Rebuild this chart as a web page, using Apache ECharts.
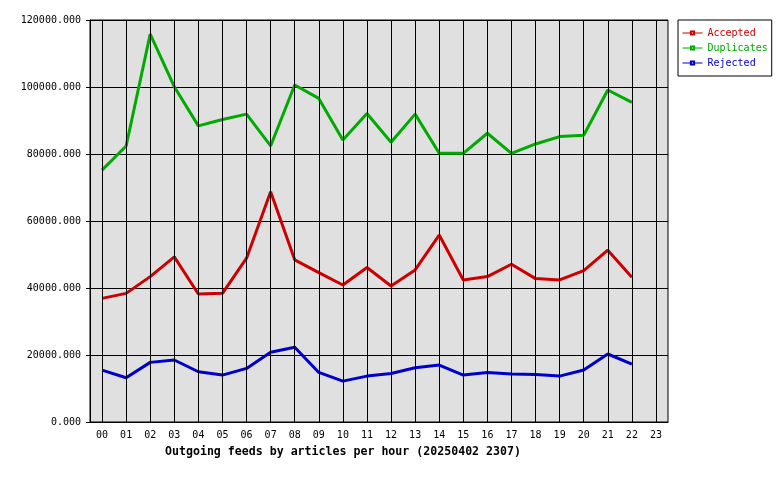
<!DOCTYPE html>
<html>
<head>
<meta charset="utf-8">
<title>Outgoing feeds by articles per hour</title>
<script src="https://cdn.jsdelivr.net/npm/echarts@6/dist/echarts.min.js"></script>
<style>
  html, body { margin: 0; padding: 0; background: #fff; }
  #chart { width: 780px; height: 480px; }
</style>
</head>
<body>
<div id="chart"></div>
<script>
// hours on the x axis
var hours = ['00','01','02','03','04','05','06','07','08','09','10','11',
             '12','13','14','15','16','17','18','19','20','21','22','23'];

// articles per hour
var accepted = [36900, 38400, 43400, 49300, 38200, 38400, 48900, 68700, 48400, 44600, 40900, 46100,
                40600, 45400, 55800, 42400, 43400, 47100, 42800, 42400, 45200, 51300, 43200];
var duplicates = [75200, 82400, 115800, 100100, 88400, 90300, 91900, 82400, 100600, 96600, 84200, 92100,
                  83500, 91900, 80200, 80200, 86200, 80200, 83000, 85200, 85600, 99100, 95400];
var rejected = [15500, 13200, 17800, 18500, 15000, 14000, 16000, 20800, 22300, 14800, 12200, 13700,
                14500, 16200, 17000, 14000, 14800, 14300, 14200, 13700, 15500, 20300, 17300];

var yTicks = { min: 0, max: 120000, step: 20000 };

var FONT = '"DejaVu Sans Mono", monospace';

var chart = echarts.init(document.getElementById('chart'));

function feed(name, values, color) {
    return {
        name: name,
        type: 'line',
        data: values,
        symbol: 'emptyRect',
        symbolSize: 4,
        showSymbol: false,
        z: 3,
        lineStyle: { color: color, width: 3 },
        itemStyle: { color: color }
    };
}

var option = {
    animation: false,
    backgroundColor: '#fff',
    title: {
        text: 'Outgoing feeds by articles per hour (20250402 2307)',
        left: 160,
        top: 441,
        textStyle: { fontFamily: FONT, fontSize: 11.6, fontWeight: 'bold', color: '#000' }
    },
    legend: {
        orient: 'vertical',
        left: 678,
        top: 20,
        padding: [7, 4, 7, 4],
        itemGap: 3,
        itemWidth: 20,
        itemHeight: 4,
        borderColor: '#000',
        borderWidth: 1,
        backgroundColor: '#fff',
        lineStyle: { width: 1 },
        textStyle: { fontFamily: FONT, fontSize: 10, lineHeight: 12 },
        data: [
            { name: 'Accepted', textStyle: { color: '#cc0000' } },
            { name: 'Duplicates', textStyle: { color: '#00aa00' } },
            { name: 'Rejected', textStyle: { color: '#0000cc' } }
        ]
    },
    grid: {
        left: 90, top: 20, width: 578, height: 402,
        show: true,
        backgroundColor: '#e0e0e0',
        borderColor: '#000',
        borderWidth: 1
    },
    xAxis: {
        type: 'category',
        data: hours,
        boundaryGap: true,
        axisLine: { lineStyle: { color: '#000', width: 1 } },
        axisTick: { show: false },
        splitLine: { show: false },
        axisLabel: { color: '#000', fontFamily: FONT, fontSize: 10, margin: 8, interval: 0 }
    },
    yAxis: {
        type: 'value',
        min: yTicks.min,
        max: yTicks.max,
        interval: yTicks.step,
        axisLine: { show: true, lineStyle: { color: '#000', width: 1 } },
        axisTick: { show: true, length: 4, lineStyle: { color: '#000' } },
        splitLine: { show: true, lineStyle: { color: '#000', width: 1 } },
        axisLabel: {
            color: '#000', fontFamily: FONT, fontSize: 10, margin: 9,
            formatter: function (v) { return v.toFixed(3); }
        }
    },
    series: [
        feed('Accepted', accepted, '#cc0000'),
        feed('Duplicates', duplicates, '#00aa00'),
        feed('Rejected', rejected, '#0000cc'),
        {
            // vertical grid lines through every hour
            name: 'hourLines',
            type: 'line',
            data: [],
            z: 1,
            silent: true,
            markLine: {
                silent: true,
                symbol: ['none', 'none'],
                label: { show: false },
                lineStyle: { color: '#000', width: 1, type: 'solid' },
                emphasis: { disabled: true },
                data: hours.map(function (h) { return { xAxis: h }; })
            }
        }
    ]
};

chart.setOption(option);
</script>
</body>
</html>
